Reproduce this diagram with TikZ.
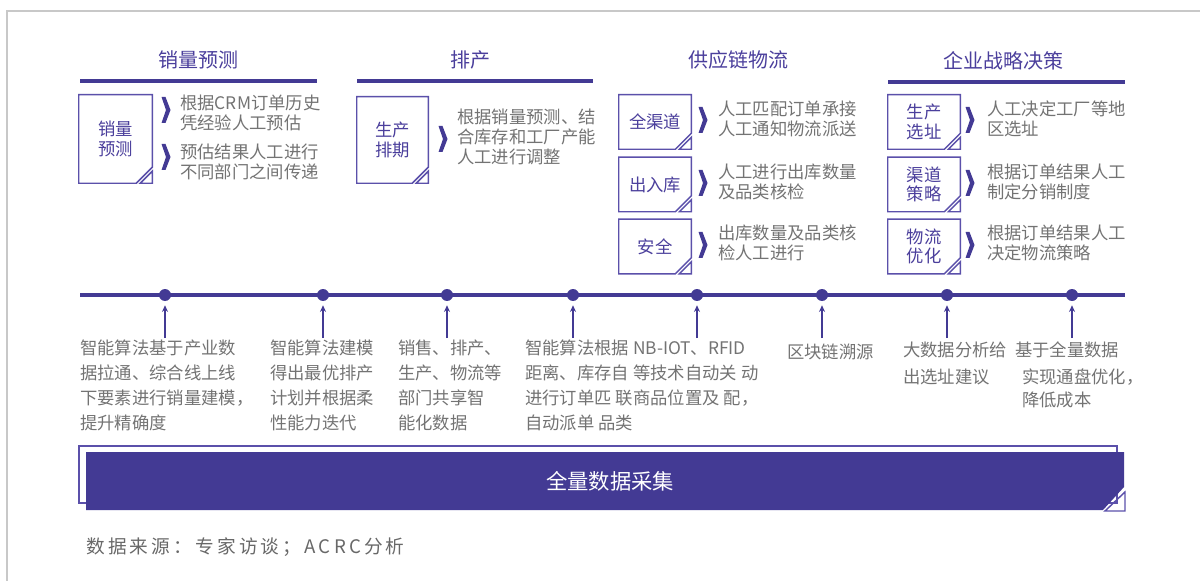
\documentclass[tikz,border=0pt]{standalone}
\usepackage{fontspec}
\setmainfont{Noto Sans CJK SC}
\newfontfamily\srcfont[LetterSpace=17]{Noto Sans CJK SC}
\usetikzlibrary{calc,arrows.meta}
\definecolor{pmain}{HTML}{433A94}
\definecolor{ptext}{HTML}{4B3F9C}
\definecolor{pbox}{HTML}{5B50AA}
\definecolor{gtext}{HTML}{737373}
\definecolor{frame}{HTML}{C8C8C8}
\newcommand\foldbox[1]{%
  \draw[boxline] (#1.north west) -- (#1.north east) -- ($(#1.south east)+(0,-16)$)
     -- ($(#1.south east)+(-16,0)$) -- (#1.south west) -- cycle;
  \draw[boxline] ($(#1.south east)+(0,-12)$) -- (#1.south east) -- ($(#1.south east)+(-12,0)$) -- cycle;
}
\begin{document}
\begin{tikzpicture}[x=0.75pt,y=-0.75pt,
  head/.style={text=ptext, font=\fontsize{15}{18}\selectfont, inner sep=0},
  uline/.style={draw=pmain, line width=3pt},
  body/.style={text=gtext, font=\fontsize{13}{15}\selectfont, align=left, anchor=base west, inner sep=0},
  bbody/.style={body, font=\fontsize{13}{18.75}\selectfont},
  boxtxt/.style={text=ptext, font=\fontsize{13}{14.6}\selectfont, align=center, inner sep=0, minimum width=54pt},
  boxline/.style={draw=pbox, line width=1.1pt, fill=white},
  dot/.style={circle, fill=pmain, minimum size=9pt, inner sep=0},
  arr/.style={draw=pmain, line width=1pt, -{Stealth[length=5pt,width=4.5pt]}, shorten >=3pt},
  chev/.pic={\fill[pmain] (-4.5,-13) -- (-0.5,-13) -- (4.5,0) -- (-0.5,13) -- (-4.5,13) -- (0,0) -- cycle;}
]
\useasboundingbox (0,0) rectangle (1200,581);
\draw[frame, line width=1.5pt] (1200,11) -- (7,11) -- (7,581);

% headers
\node[head] (h1) at (198,60) {销量预测};
\node[head] (h2) at (470,60) {排产};
\node[head] (h3) at (738,60) {供应链物流};
\node[head] (h4) at (1003,61) {企业战略决策};
\draw[uline] (80,81) -- (317,81);
\draw[uline] (357,81) -- (593,81);
\draw[uline] (888,82) -- (1125,82);

% column 1
\node[boxtxt, minimum width=54.75pt, minimum height=66pt] (bA) at (115.5,139) {销量\\预测};
\foldbox{bA}
\node[boxtxt] at (115.5,139) {销量\\预测};
\pic at (166,110) {chev};
\pic at (166,157) {chev};
\node[body] (tA1) at (180,129.6) {根据CRM订单历史\\凭经验人工预估};
\node[body] (tA2) at (180,178.6) {预估结果人工进行\\不同部门之间传递};

% column 2
\node[boxtxt, minimum width=53.25pt, minimum height=64.5pt] (bB) at (392.5,140) {生产\\排期};
\foldbox{bB}
\node[boxtxt] at (392.5,140) {生产\\排期};
\pic at (443,139) {chev};
\node[body] (tB) at (457,163.6) {根据销量预测、结\\合库存和工厂产能\\人工进行调整};

% column 3
\foreach \n/\y/\t in {S1/122/全渠道, S2/184.5/出入库, S3/246.5/安全}{
  \node[boxtxt, minimum width=54pt, minimum height=40.5pt] (b\n) at (655,\y) {\t};
  \foldbox{b\n}
  \node[boxtxt] at (655,\y) {\t};
}
\pic at (703,120) {chev};
\pic at (703,183) {chev};
\pic at (703,245) {chev};
\node[body] (tS1) at (718,135.6) {人工匹配订单承接\\人工通知物流派送};
\node[body] (tS2) at (718,198.6) {人工进行出库数量\\及品类核检};
\node[body] (tS3) at (718,259.6) {出库数量及品类核\\检人工进行};

% column 4
\foreach \n/\y/\t in {T1/122/生产\\选址, T2/184.5/渠道\\策略, T3/246.5/物流\\优化}{
  \node[boxtxt, minimum width=54pt, minimum height=40.5pt] (b\n) at (924,\y) {\t};
  \foldbox{b\n}
  \node[boxtxt] at (924,\y) {\t};
}
\pic at (970,120) {chev};
\pic at (970,183) {chev};
\pic at (970,245) {chev};
\node[body] (tT1) at (987,135.6) {人工决定工厂等地\\区选址};
\node[body] (tT2) at (987,198.6) {根据订单结果人工\\制定分销制度};
\node[body] (tT3) at (987,259.6) {根据订单结果人工\\决定物流策略};

% timeline
\coordinate (tl) at (80,295);
\coordinate (tr) at (1125,295);
\draw[pmain, line width=3pt] (tl) -- (tr);
\foreach \i/\x in {1/165,2/323,3/447,4/573,5/697,6/822,7/947,8/1072}{
  \node[dot] (d\i) at (\x,295) {};
  \coordinate (a\i) at (\x,338);
  \draw[arr] (a\i) -- (d\i);
}

% bottom texts
\node[bbody] (c1) at (80,429.6) {智能算法基于产业数\\据拉通、综合线上线\\下要素进行销量建模，\\提升精确度};
\node[bbody] (c2) at (270,429.6) {智能算法建模\\得出最优排产\\计划并根据柔\\性能力迭代};
\node[bbody] (c3) at (398,429.6) {销售、排产、\\生产、物流等\\部门共享智\\能化数据};
\node[bbody] (c4) at (525,429.6) {智能算法根据 NB-IOT、RFID\\距离、库存自 等技术自动关 动\\进行订单匹 联商品位置及 配，\\自动派单 品类};
\node[body] (c5) at (787,358.6) {区块链溯源};
\node[body, font=\fontsize{13}{20}\selectfont] (c6) at (903,383.3) {大数据分析给\\出选址建议};
\node[body] (c7) at (1015,356.6) {基于全量数据};
\node[body, font=\fontsize{13}{17}\selectfont] (c8) at (1022,406.3) {实现通盘优化，\\降低成本};

% data bar
\draw[pbox, line width=1.1pt] (79,446) rectangle (1117,503);
\coordinate (bnw) at (86,452);
\coordinate (bse) at (1124,510);
\fill[pmain] (bnw) -- (bnw -| bse) -- ($(bse)+(0,-23)$) -- ($(bse)+(-21,0)$) -- (bnw |- bse) -- cycle;
\draw[pbox, line width=1.1pt] (1125,492) -- (1125,511) -- (1105,511) -- cycle;
\node[text=white, font=\fontsize{16}{19}\selectfont, inner sep=0] (bar) at (610,481) {全量数据采集};

% source
\node[anchor=base west, inner sep=0, text=gtext!90!black, font=\srcfont\fontsize{14}{16}\selectfont] (src) at (86,553) {数据来源：专家访谈；ACRC分析};
\end{tikzpicture}
\end{document}
